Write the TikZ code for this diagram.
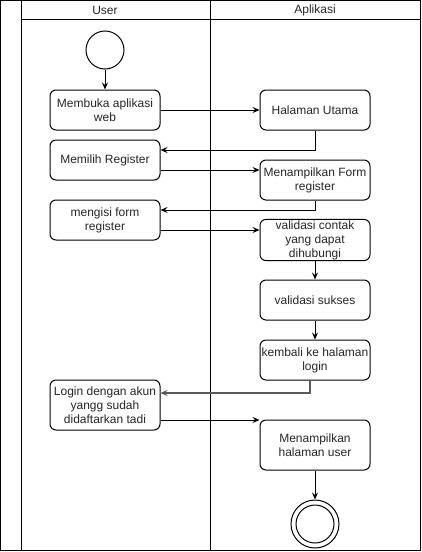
\documentclass[tikz,border=0pt]{standalone}
\usepackage{fontspec}
\setmainfont{Liberation Sans}
\usetikzlibrary{arrows.meta}
\begin{document}
\begin{tikzpicture}[x=1pt,y=-1pt,
  every node/.style={font=\fontsize{12}{14}\selectfont, text=black!85},
  actbox/.style={draw=black, line width=1pt, rounded corners=6pt, minimum width=110pt, minimum height=40pt, align=center, inner sep=1pt},
  flow/.style={draw=black, line width=1pt, -{Stealth[length=7pt,width=6pt,inset=2.5pt]}},
  lane/.style={draw=black, line width=1pt}]
\useasboundingbox (0,0) rectangle (421,552);
% pool frame
\draw[lane] (0.5,0.5) rectangle (420.5,550.5);
\draw[lane] (21,0.5) -- (21,550.5);
\draw[lane] (210,0.5) -- (210,550.5);
\draw[lane] (21,19.5) -- (420.5,19.5);
\node (hUser) at (105,10) {User};
\node (hApp) at (315,10) {Aplikasi};
% start
\node[draw=black, line width=1pt, circle, minimum size=38pt, inner sep=0pt] (start) at (105,50) {};
% user lane
\node[actbox] (b1) at (105,110) {Membuka aplikasi\\web};
\node[actbox] (b2) at (105,160) {Memilih Register};
\node[actbox] (b3) at (105,220) {mengisi form\\register};
\node[actbox, minimum height=50pt] (b4) at (105,405) {Login dengan akun\\yangg sudah\\didaftarkan tadi};
% app lane
\node[actbox] (h1) at (315,110) {Halaman Utama};
\node[actbox] (h2) at (315,180) {Menampilkan Form\\register};
\node[actbox] (h3) at (315,240) {validasi contak\\yang dapat\\dihubungi};
\node[actbox] (h4) at (315,300) {validasi sukses};
\node[actbox] (h5) at (315,360) {kembali ke halaman\\login};
\node[actbox, minimum height=50pt] (h6) at (315,445) {Menampilkan\\halaman user};
% end
\node[draw=black, line width=1pt, circle, minimum size=48pt, inner sep=0pt] (end) at (315,524) {};
\node[draw=black, line width=1pt, circle, minimum size=38pt, inner sep=0pt] (endin) at (315,524) {};
% connectors
\draw[flow] (start.south) -- (b1.north);
\draw[flow] (b1.east) -- (h1.west);
\draw[flow] (h1.south) |- ([yshift=10pt]b2.east);
\draw[flow] ([yshift=-10pt]b2.east) -- ([yshift=10pt]h2.west);
\draw[flow] (h2.south) |- ([yshift=10pt]b3.east);
\draw[flow] ([yshift=-10pt]b3.east) -- ([yshift=10pt]h3.west);
\draw[flow] (h3.south) -- (h4.north);
\draw[flow] (h4.south) -- (h5.north);
\draw[flow, draw=black!65, line width=1.6pt] ([xshift=-5pt]h5.south) |- ([yshift=12pt]b4.east);
\draw[flow] ([yshift=-15pt]b4.east) -- ([yshift=-15pt]b4.east -| h6.west);
\draw[flow] (h6.south) -- (end.north);
\end{tikzpicture}
\end{document}
